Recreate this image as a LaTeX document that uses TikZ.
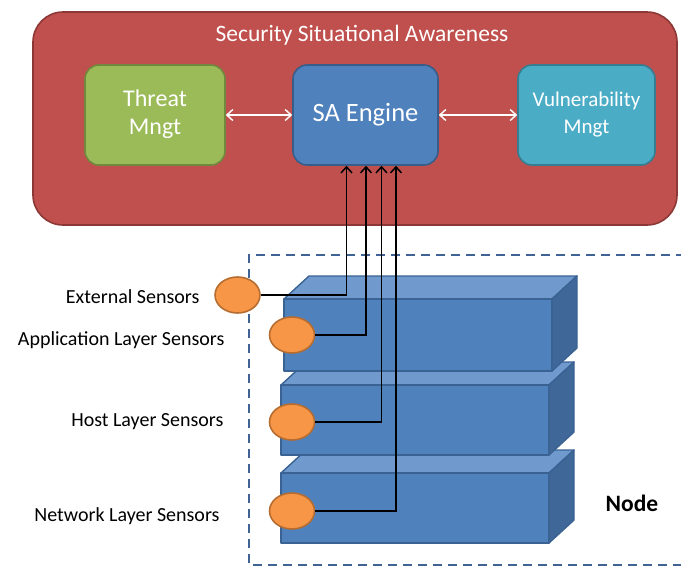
\documentclass[tikz,border=0pt]{standalone}
\usepackage{fontspec}
\setmainfont{Carlito}
\usetikzlibrary{arrows.meta,shapes.geometric}
\definecolor{ssared}{HTML}{C0504D}
\definecolor{ssaredb}{HTML}{8C3836}
\definecolor{thgreen}{HTML}{9BBB59}
\definecolor{thgreenb}{HTML}{71893F}
\definecolor{sablue}{HTML}{4F81BD}
\definecolor{sablueb}{HTML}{385D8A}
\definecolor{vulcyan}{HTML}{4BACC6}
\definecolor{vulcyanb}{HTML}{357D91}
\definecolor{sensor}{HTML}{F79646}
\definecolor{sensorb}{HTML}{B66D31}
\definecolor{blktop}{HTML}{7099CD}
\definecolor{blkside}{HTML}{3F6797}
\definecolor{blkedge}{HTML}{3A6394}
\definecolor{nodedash}{HTML}{3E6394}
\tikzset{
  inbox/.style={draw, line width=1.6pt, rounded corners=14pt, text=white, align=center, font=\fontsize{24}{28}\selectfont},
  sensornode/.style={ellipse, draw=sensorb, fill=sensor, line width=1.6pt, minimum width=45pt, minimum height=36pt, inner sep=0pt},
  lbl/.style={anchor=east, font=\fontsize{20}{24}\selectfont, text=black},
  feed/.style={draw=black, line width=1.8pt, -{Straight Barb[length=6pt,width=11pt,line width=1.5pt]}},
  white2/.style={draw=white, line width=1.4pt, {Straight Barb[length=6pt,width=11pt,line width=1.4pt]}-{Straight Barb[length=6pt,width=11pt,line width=1.4pt]}},
  facefront/.style={fill=sablue, draw=blkedge, line width=1.4pt, line join=round},
  facetop/.style={fill=blktop, draw=blkedge, line width=1.4pt, line join=round},
  faceside/.style={fill=blkside, draw=blkedge, line width=1.4pt, line join=round}
}
\newcommand\cuboid[4]{% x y w h (front face top-left, pixel coords)
  \fill[facetop] (#1,#2) -- ++(25,-23) -- ++(#3,0) -- ++(-25,23) -- cycle;
  \fill[faceside] (#1+#3,#2) -- ++(25,-23) -- ++(0,#4) -- ++(-25,23) -- cycle;
  \fill[facefront] (#1,#2) rectangle ++(#3,#4);
}
\begin{document}
\begin{tikzpicture}[x=1pt,y=-1pt]
\useasboundingbox (0,0) rectangle (681,566);
% outer SSA box
\node[draw=ssaredb, fill=ssared, line width=1.6pt, rounded corners=30pt, minimum width=644pt, minimum height=213pt] (ssa) at (355,118.5) {};
\node[text=white, font=\fontsize{23.5}{28}\selectfont] (title) at (362,35) {Security Situational Awareness};
\node[inbox, draw=thgreenb, fill=thgreen, minimum width=140pt, minimum height=100pt] (threat) at (155,115) {\raisebox{-3pt}{\begin{tabular}{@{}c@{}}Threat\\Mngt\end{tabular}}};
\node[inbox, draw=sablueb, fill=sablue, minimum width=145pt, minimum height=100pt, font=\fontsize{26.5}{30}\selectfont] (sa) at (365.5,115) {\raisebox{-3pt}{SA Engine}};
\node[inbox, draw=vulcyanb, fill=vulcyan, minimum width=137pt, minimum height=100pt, font=\fontsize{21}{27}\selectfont] (vul) at (586.5,115) {\raisebox{-3pt}{\begin{tabular}{@{}c@{}}Vulnerability\\Mngt\end{tabular}}};
\draw[white2] (threat.east) -- (sa.west);
\draw[white2] (sa.east) -- (vul.west);
% node dashed frame
\draw[draw=nodedash, line width=2pt, dash pattern=on 9pt off 6pt] (700,255) -- (249,255) -- (249,565) -- (700,565);
% stacked layers
\cuboid{281}{473}{268}{70}
\cuboid{281}{385}{268}{70}
\cuboid{284}{299}{268}{72}
% sensors
\node[sensornode] (ext) at (237.5,295) {};
\node[sensornode] (app) at (292,335) {};
\node[sensornode] (host) at (292,422) {};
\node[sensornode] (net) at (292,511) {};
\draw[feed] (ext.east) -| ([xshift=-19pt]sa.south);
\draw[feed] (app.east) -| ([xshift=0.5pt]sa.south);
\draw[feed] (host.east) -| ([xshift=16pt]sa.south);
\draw[feed] (net.east) -| ([xshift=30.5pt]sa.south);
% labels
\node[lbl] (lext) at (203,297) {External Sensors};
\node[lbl] (lapp) at (228,340) {Application Layer Sensors};
\node[lbl] (lhost) at (227,422) {Host Layer Sensors};
\node[lbl] (lnet) at (223,516) {Network Layer Sensors};
\node[font=\fontsize{23.5}{28}\selectfont\bfseries] (nodelbl) at (632,503) {Node};
\end{tikzpicture}
\end{document}
